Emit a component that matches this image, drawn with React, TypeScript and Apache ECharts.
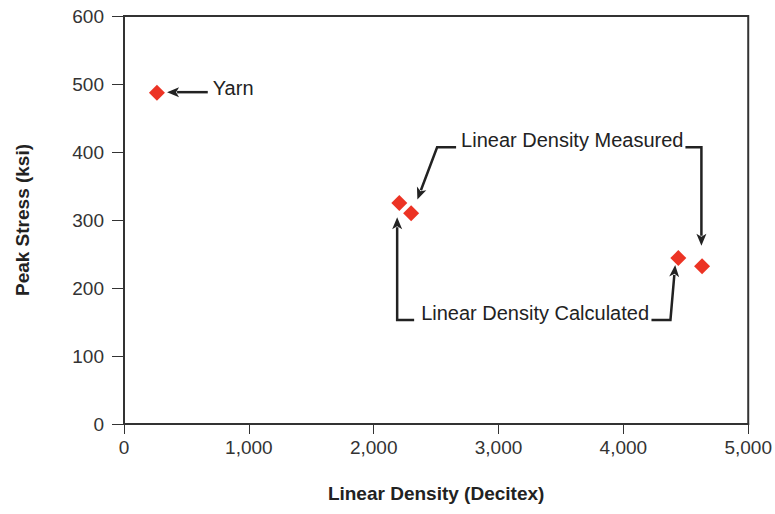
import React, { useEffect, useRef } from "react";
import * as echarts from "echarts";

const FONT = "'Liberation Sans Narrow', 'Arial Narrow', 'Liberation Sans', Arial, sans-serif";

const linearDensity = [264, 2205, 2300, 4440, 4630];
const peakStress = [487, 325, 310, 244, 232];

const xTicks = [0, 1000, 2000, 3000, 4000, 5000];
const yTicks = [0, 100, 200, 300, 400, 500, 600];

// annotation paths in data coordinates [linearDensity, peakStress]
const yarnArrow = [[671, 488], [345, 488]];
const measuredLeft = [[2660, 407], [2508, 407], [2350, 330]];
const measuredRight = [[4497, 407], [4625, 407], [4625, 262]];
const calcLeft = [[2324, 153], [2188, 153], [2188, 304]];
const calcRight = [[4225, 153], [4377, 153], [4415, 234]];

const labels = [
  { text: "Yarn", at: [711, 494] },
  { text: "Linear Density Measured", at: [2700, 418] },
  { text: "Linear Density Calculated", at: [2380, 163] },
];

export default function App() {
  const ref = useRef<HTMLDivElement>(null);
  useEffect(() => {
    if (!ref.current) return;
    const chart = echarts.init(ref.current, null, { renderer: "svg" });
    chart.setOption({
      animation: false,
      grid: {
        left: 124,
        right: 25,
        top: 16,
        bottom: 90,
        show: true,
        borderColor: "#333",
        borderWidth: 2,
      },
      xAxis: {
        type: "value",
        min: xTicks[0],
        max: xTicks[xTicks.length - 1],
        interval: xTicks[1] - xTicks[0],
        name: "Linear Density (Decitex)",
        nameLocation: "middle",
        nameGap: 60,
        nameTextStyle: { fontFamily: FONT, fontSize: 19, fontWeight: "bold", color: "#222" },
        axisLine: { show: true, lineStyle: { color: "#333", width: 2 } },
        axisTick: { show: true, length: 10, lineStyle: { color: "#333", width: 1 } },
        axisLabel: {
          fontFamily: FONT,
          fontSize: 19,
          color: "#333",
          margin: 14,
          formatter: (v: number) => v.toLocaleString("en-US"),
        },
        splitLine: { show: false },
      },
      yAxis: {
        type: "value",
        min: yTicks[0],
        max: yTicks[yTicks.length - 1],
        interval: yTicks[1] - yTicks[0],
        name: "Peak Stress (ksi)",
        nameLocation: "middle",
        nameGap: 92,
        nameTextStyle: { fontFamily: FONT, fontSize: 19, fontWeight: "bold", color: "#222" },
        axisLine: { show: true, lineStyle: { color: "#333", width: 2 } },
        axisTick: { show: true, length: 12, lineStyle: { color: "#333", width: 1 } },
        axisLabel: { fontFamily: FONT, fontSize: 19, color: "#333", margin: 20 },
        splitLine: { show: false },
      },
      series: [
        {
          type: "scatter",
          symbol: "diamond",
          symbolSize: [16, 16],
          itemStyle: { color: "#ec3324", opacity: 1 },
          data: linearDensity.map((x, i) => [x, peakStress[i]]),
        },
      ],
    });

    const px = (p: number[]) => chart.convertToPixel({ gridIndex: 0 }, p) as number[];
    const elements: any[] = [];
    const arrow = (path: number[][]) => {
      const pts = path.map(px);
      const n = pts.length;
      const tip = pts[n - 1];
      const prev = pts[n - 2];
      const dx = tip[0] - prev[0];
      const dy = tip[1] - prev[1];
      const len = Math.hypot(dx, dy);
      const ux = dx / len;
      const uy = dy / len;
      const headLen = 12;
      const headW = 5;
      const bx = tip[0] - ux * headLen;
      const by = tip[1] - uy * headLen;
      const linePts = pts.slice(0, n - 1).concat([[bx + ux * 2, by + uy * 2]]);
      elements.push({
        type: "polyline",
        shape: { points: linePts },
        style: { stroke: "#222", lineWidth: 2.5, fill: null },
      });
      elements.push({
        type: "polygon",
        shape: {
          points: [
            tip,
            [bx - uy * headW, by + ux * headW],
            [bx + ux * 3, by + uy * 3],
            [bx + uy * headW, by - ux * headW],
          ],
        },
        style: { fill: "#222" },
      });
    };
    [yarnArrow, measuredLeft, measuredRight, calcLeft, calcRight].forEach(arrow);
    labels.forEach((l) => {
      const p = px(l.at);
      elements.push({
        type: "text",
        x: p[0],
        y: p[1],
        style: {
          text: l.text,
          fontFamily: FONT,
          fontSize: 20,
          fill: "#222",
          textAlign: "left",
          textVerticalAlign: "middle",
        },
      });
    });
    chart.setOption({ graphic: elements });

    return () => chart.dispose();
  }, []);
  return <div ref={ref} style={{ width: 775, height: 514, position: "absolute", left: 0, top: 0 }} />;
}
